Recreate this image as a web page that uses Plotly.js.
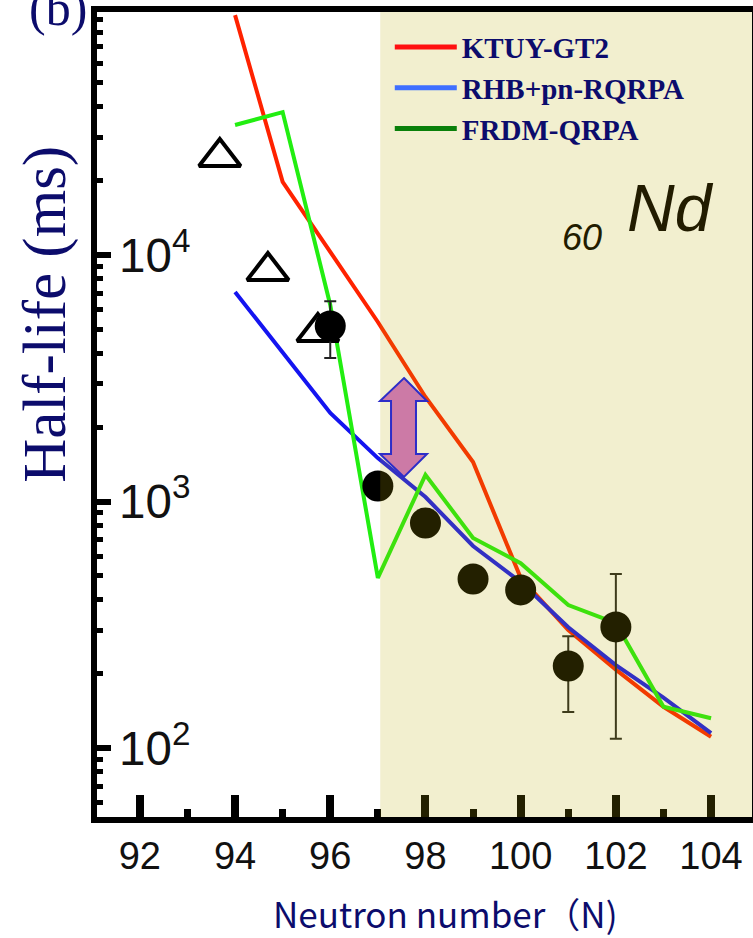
<!DOCTYPE html>
<html>
<head>
<meta charset="utf-8">
<script src="https://cdn.plot.ly/plotly-3.0.1.min.js"></script>
<style>html,body{margin:0;padding:0;background:#fff;}#chart{width:753px;height:938px;}</style>
</head>
<body>
<div id="chart"></div>
<script>
// Neutron numbers for model curves
const N = [94, 95, 96, 97, 98, 99, 100, 101, 102, 103, 104];
// Half-lives (ms)
const ktuy = [94000, 19800, 10300, 5350, 2655, 1445, 490, 301, 208, 147, 111];
const rhb  = [7080, 4000, 2287, 1500, 1043, 660, 471, 309, 217, 160, 115];
const frdm = [33700, 38000, 6270, 490, 1283, 711, 562, 380, 321, 147, 132];
// Experimental points (filled circles)
const expN = [96, 97, 98, 99, 100, 101, 102];
const expT = [5150, 1156, 818, 485, 438, 215, 310];
const expErrPlus  = [1350, 0, 0, 0, 0, 69, 198];
const expErrMinus = [1330, 0, 0, 0, 0, 75, 201];
// Open triangles
const triN = [93.68, 94.69, 95.74];
const triT = [25000, 8610, 4870];
// Legend labels
const names = ['KTUY-GT2', 'RHB+pn-RQRPA', 'FRDM-QRPA'];
const plotColors = ['#ff2200', '#1414f0', '#22ee11'];
const legendColors = ['#ff1010', '#3f6fff', '#0a800a'];
const shadeStartN = 97.05;
const xRange = [91.1, 104.86];

const traces = [];
[ktuy, rhb, frdm].forEach((ys, i) => {
  traces.push({x: N, y: ys, type: 'scatter', mode: 'lines', showlegend: false,
    line: {color: plotColors[i], width: 4}, hoverinfo: 'skip'});
});
traces.push({x: triN, y: triT, type: 'scatter', mode: 'markers', showlegend: false,
  marker: {symbol: 'triangle-up-open', size: 36, color: '#000', line: {width: 4, color: '#000'}}});
traces.push({x: expN, y: expT, type: 'scatter', mode: 'markers', showlegend: false,
  marker: {symbol: 'circle', size: 31, color: '#000'},
  error_y: {type: 'data', symmetric: false, array: expErrPlus, arrayminus: expErrMinus,
    color: '#222', thickness: 2, width: 6}});
names.forEach((nm, i) => {
  traces.push({x: [null], y: [null], type: 'scatter', mode: 'lines', name: nm,
    line: {color: legendColors[i], width: 5}});
});

const navy = '#0c0c6c';
const layout = {
  width: 753, height: 938,
  margin: {l: 97, r: 1, t: 12, b: 121},
  paper_bgcolor: '#fff', plot_bgcolor: '#fff',
  font: {family: 'Liberation Sans, Arial, sans-serif', color: '#111'},
  showlegend: true,
  legend: {x: 0.447, y: 0.988, xanchor: 'left', yanchor: 'top', bgcolor: 'rgba(0,0,0,0)',
    font: {family: 'Liberation Serif, Times New Roman, serif', size: 29, color: navy, weight: 'bold'},
    itemwidth: 62, tracegroupgap: 0},
  xaxis: {range: xRange, tick0: 0, dtick: 2, ticks: 'inside', ticklen: 22, tickwidth: 8, tickcolor: '#000',
    showline: true, linewidth: 6, linecolor: '#000', mirror: true, showgrid: false, zeroline: false,
    tickfont: {size: 38, color: '#111'},
    minor: {ticks: 'inside', dtick: 1, tick0: 0, ticklen: 8, tickwidth: 7, tickcolor: '#000', showgrid: false}},
  yaxis: {type: 'log', range: [1.72, 4.986], dtick: 1, exponentformat: 'power',
    ticks: 'inside', ticklen: 14, tickwidth: 6, tickcolor: '#000',
    ticklabelposition: 'outside', ticklabelstandoff: -107,
    showline: true, linewidth: 6, linecolor: '#000', mirror: true, showgrid: false, zeroline: false,
    tickfont: {size: 38, color: '#111'},
    minor: {ticks: 'inside', dtick: 'D1', ticklen: 6, tickwidth: 5, tickcolor: '#000', showgrid: false}},
  shapes: [
    {type: 'rect', xref: 'x', yref: 'paper', x0: shadeStartN, x1: xRange[1], y0: 0, y1: 1,
      fillcolor: 'rgba(187,172,0,0.19)', line: {width: 0}, layer: 'above'},
    {type: 'path', xref: 'paper', yref: 'paper', layer: 'above',
      path: 'M0.4687,0.5453 L0.5038,0.5168 L0.4870,0.5168 L0.4870,0.4509 L0.5038,0.4509 L0.4687,0.4224 L0.4321,0.4509 L0.4489,0.4509 L0.4489,0.5168 L0.4321,0.5168 Z',
      fillcolor: '#cc7aa6', line: {color: '#2d2dc8', width: 2}}
  ],
  annotations: [
    {text: 'Half-life (ms)', xref: 'paper', yref: 'paper', x: -0.0794, y: 0.625, textangle: -90,
      xanchor: 'center', yanchor: 'middle', showarrow: false,
      font: {family: 'Liberation Serif, Times New Roman, serif', size: 61, color: navy}},
    {text: 'Neutron number（N)', xref: 'paper', yref: 'paper', x: 0.531, y: -0.119,
      xanchor: 'center', yanchor: 'middle', showarrow: false,
      font: {family: 'Noto Sans CJK JP, sans-serif', size: 35, color: navy}},
    {text: '(b)', xref: 'paper', yref: 'paper', x: -0.0595, y: 1.005,
      xanchor: 'center', yanchor: 'middle', showarrow: false,
      font: {family: 'Liberation Serif, Times New Roman, serif', size: 50, color: navy}},
    {text: '<i>Nd</i>', xref: 'paper', yref: 'paper', x: 0.875, y: 0.756,
      xanchor: 'center', yanchor: 'middle', showarrow: false,
      font: {family: 'Liberation Sans, Arial, sans-serif', size: 66, color: '#221c00'}},
    {text: '<i>60</i>', xref: 'paper', yref: 'paper', x: 0.741, y: 0.72,
      xanchor: 'center', yanchor: 'middle', showarrow: false,
      font: {family: 'Liberation Sans, Arial, sans-serif', size: 36, color: '#221c00'}}
  ]
};

Plotly.newPlot('chart', traces, layout, {staticPlot: true, displayModeBar: false});
</script>
</body>
</html>
